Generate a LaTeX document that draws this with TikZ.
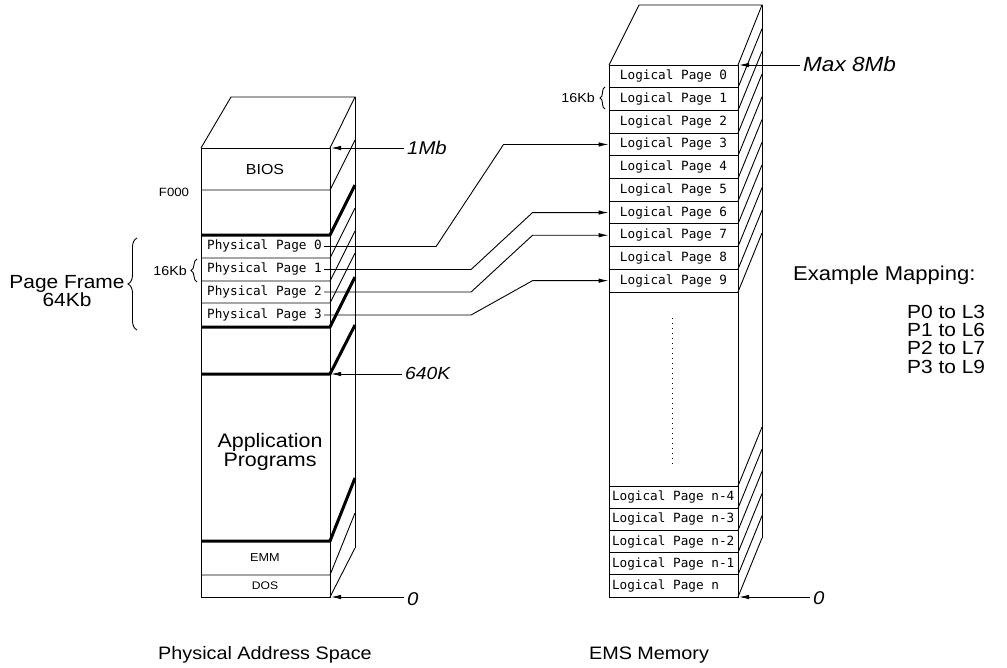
\documentclass[tikz,border=0pt]{standalone}
\usepackage{fontspec}
\setmainfont{Liberation Sans}[FakeStretch=1.1]
\newfontfamily\monof{DejaVu Sans Mono}
\usetikzlibrary{arrows.meta,calc,decorations.pathreplacing}
\newcommand\myfs[1]{\fontsize{#1}{#1}\selectfont}
\newcommand\rowtxt[2]{\makebox[123pt][#1]{#2}}
\begin{document}
\begin{tikzpicture}[x=1pt,y=-1pt,
  ln/.style={line width=0.9pt},
  thk/.style={line width=3pt},
  arr/.style={line width=0.9pt,-{Latex[length=10pt,width=4.5pt]}},
  mono/.style={font=\monof\myfs{12.7}},
  urow/.style={draw,line width=0.9pt,mono,inner xsep=3pt,inner ysep=0pt,minimum height=22.7pt},
  drow/.style={urow,minimum height=22.2pt},
  ppl/.style={mono,inner sep=0pt,anchor=west},
  lbl/.style={inner sep=0pt},
  mark/.style={inner sep=3pt,anchor=base west,font=\itshape\myfs{#1}},
  bracedeco/.style={ln,decorate,decoration={brace,amplitude=#1}}
]
\useasboundingbox (0,0) rectangle (1007,667);

% ---------- left column (physical address space)
\draw[ln] (201,148) rectangle (330,597);
\draw[ln] (201,148) -- (231,97) -- (355,97) -- (330,148);
\draw[ln] (355,97) -- (355,548);
\draw[ln] (201,190) -- (330,190) -- (355,140);
\draw[thk] (201,235) -- (330,235) -- (355,185);
\draw[ln] (201,258) -- (330,258) -- (355,208);
\draw[ln] (201,281) -- (330,281) -- (355,231);
\draw[ln] (201,303) -- (330,303) -- (355,253);
\draw[thk] (201,327) -- (330,327) -- (355,277);
\draw[thk] (201,374) -- (330,374) -- (355,325);
\draw[thk] (201,541) -- (330,541) -- (355,478);
\draw[ln] (201,575) -- (330,575) -- (355,513);
\draw[ln] (330,597) -- (355,548);

\node[lbl,font=\myfs{14.5}] (bios) at (265,170) {BIOS};
\node[lbl,font=\myfs{12}] (f000) at (174,192) {F000};
\node[ppl] (pp0) at (207,246.5) {Physical Page 0};
\node[ppl] (pp1) at (207,269.5) {Physical Page 1};
\node[ppl] (pp2) at (207,292) {Physical Page 2};
\node[ppl] (pp3) at (207,315) {Physical Page 3};
\node[lbl,anchor=north,align=center,font={\myfs{19.5}\lineskiplimit=-20pt\baselineskip=19pt}] (app) at (270,433) {Application\\Programs};
\node[lbl,font=\myfs{11.5}] (emm) at (265,558) {EMM};
\node[lbl,font=\myfs{11}] (dos) at (265,586) {DOS};

\node[lbl,anchor=east,font=\myfs{13}] (kbL) at (187,270.5) {16Kb};
\draw[bracedeco=6pt] (197,282) -- (197,259);
\node[lbl,anchor=north,align=center,font={\myfs{19}\lineskiplimit=-20pt\baselineskip=18pt}] (pf) at (67,275) {Page Frame\\64Kb};
\draw[bracedeco=9pt] (137,330) -- (137,238);

\coordinate (c1mb) at (331,148);
\coordinate (c640) at (331,374);
\coordinate (c0L) at (331,597);
\node[mark=18.5] (m1mb) at (404,154) {1Mb};
\node[mark=17.5] (m640) at (402,379) {640K};
\node[mark=18.5] (m0L) at (404,605) {0};
\draw[arr] (m1mb.west |- c1mb) -- (c1mb);
\draw[arr] (m640.west |- c640) -- (c640);
\draw[arr] (m0L.west |- c0L) -- (c0L);

\node[lbl,anchor=base,font=\myfs{18}] (pas) at (265,659) {Physical Address Space};

% ---------- right column (EMS memory)
\draw[ln] (609,65) rectangle (738,597);
\draw[ln] (609,65) -- (639,5) -- (762,5) -- (738,65);
\draw[ln] (762,5) -- (762,538);
\foreach \k in {1,...,10} \draw[ln] (738,{65+22.7*\k}) -- (762,{6+22.7*\k});
\foreach \k in {0,...,5} \draw[ln] (738,{486+22.2*\k}) -- (762,{427+22.2*\k});

\foreach \i in {0,...,9}
  \node[urow] (lp\i) at (673.5,{65+22.7*(\i+0.5)}) {\rowtxt{c}{Logical Page \i}};
\node[drow] (lpn4) at (673.5,497.1) {\rowtxt{l}{Logical Page n-4}};
\node[drow] (lpn3) at (673.5,519.3) {\rowtxt{l}{Logical Page n-3}};
\node[drow] (lpn2) at (673.5,541.5) {\rowtxt{l}{Logical Page n-2}};
\node[drow] (lpn1) at (673.5,563.7) {\rowtxt{l}{Logical Page n-1}};
\node[drow] (lpn) at (673.5,585.9) {\rowtxt{l}{Logical Page n}};
\draw[line width=1pt,dash pattern=on 1pt off 4pt] (672,318) -- (672,467);

\node[lbl,anchor=east,font=\myfs{13}] (kbR) at (595,98) {16Kb};
\draw[bracedeco=5pt] (605,109) -- (605,87);

\coordinate (c8mb) at (739,65);
\coordinate (c0R) at (739,597);
\node[mark=20.5] (m8mb) at (800,71) {Max 8Mb};
\node[mark=18.5] (m0R) at (810,604) {0};
\draw[arr] (m8mb.west |- c8mb) -- (c8mb);
\draw[arr] (m0R.west |- c0R) -- (c0R);

\node[lbl,anchor=base,font=\myfs{18}] (ems) at (649,659) {EMS Memory};

% ---------- mapping connectors
\draw[arr] ([xshift=2pt]pp0.east) -- ++(112,0) -- ($(lp3.west)+(-105,0)$) -- (lp3.west);
\draw[arr] ([xshift=2pt]pp1.east) -- ++(147,0) -- ($(lp6.west)+(-76,0)$) -- (lp6.west);
\draw[arr] ([xshift=2pt]pp2.east) -- ++(147,0) -- ($(lp7.west)+(-76,0)$) -- (lp7.west);
\draw[arr] ([xshift=2pt]pp3.east) -- ++(147,0) -- ($(lp9.west)+(-76,0)$) -- (lp9.west);

% ---------- example mapping
\node[lbl,anchor=base west,font=\myfs{20}] (exm) at (793,280) {Example Mapping:};
\node[lbl,anchor=north west,align=left,font={\myfs{19}\lineskiplimit=-20pt\baselineskip=18.2pt}] (maps) at (907,305) {P0 to L3\\P1 to L6\\P2 to L7\\P3 to L9};
\end{tikzpicture}
\end{document}
